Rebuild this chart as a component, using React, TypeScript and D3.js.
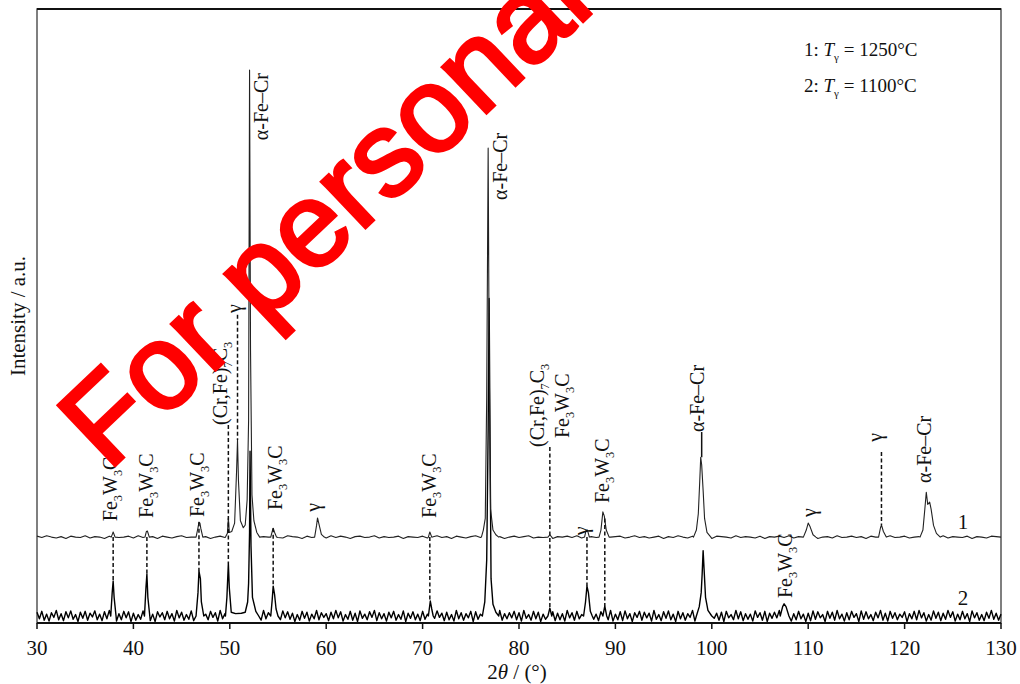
import React from "react";
import * as d3 from "d3";

const W = 1020;
const H = 684;
const frame = { left: 37, right: 1001, top: 9, bottom: 623 };

// 2θ axis ticks
const xTicks = [30, 40, 50, 60, 70, 80, 90, 100, 110, 120, 130];

// stacking offsets of the two patterns (a.u.)
const offset1 = 18.4;
const offset2 = 1.5;

// baseline noise, tenths of a.u., evenly spaced from 30 to 130°
const noise1 = [
  2, -1, 3, 0, -2, 1, -3, 2, 0, -1, 3, -2, 1, 0, -3, 2, 1, -1, 0, 2, -2, 3, -1, 0, 1, -3, 2, 0, -2, 1, 3, -1, 0, -2, 2, 1, -3, 0, 2, -1,
  1, -2, 3, 0, -1, 2, -3, 1, 0, 2, -1, -2, 3, 1, 0, -3, 2, -1, 1, 0, -2, 3, -1, 2, 0, -3, 1, 2, -1, 0, 3, -2, 1, -1, 0, 2, -3, 1, 0, -1,
  2, -2, 0, 3, -1, 1, -3, 2, 0, -2, 1, 3, -1, 0, 2, -2, 1, -3, 0, 2, -1, 1, 3, -2, 0, -1, 2, -3, 1, 0, 2, -1, 3, -2, 0, 1, -1, 2, -3, 0,
  1, 2, -2, 0, 3, -1, 1, -2, 0, 2, -3, 1, -1, 3, 0, -2, 2, 1, -1, 0, -3, 2, 1, 0, -2, 3, -1, 1, 0, -2, 2, -3, 1, 0, 2, -1, 3, -2, 1, 0,
  -1, 2, -3, 0, 1, -2, 3, -1, 0, 2, -1, 1, -3, 2, 0, -2, 1, 3, -1, 0, 2, -2, 0, 1, -3, 2, -1, 0, 3, -2, 1, 0, -1, 2, -3, 1, 0, -2, 2, 1,
  0,
];

const noise2 = [
  8, -6, 10, -9, 4, -11, 7, -3, 12, -8, 5, -10, 9, -4, 11, -7, 3, -12, 8, -5, 10, -9, 6, -2, 11, -8, 4, -10, 9, -6, 12, -3, 7, -11, 5, -8, 10, -4, 9, -12,
  6, -9, 3, -7, 11, -5, 8, -10, 4, -12, 9, -2, 7, -8, 10, -6, 5, -11, 12, -4, 8, -9, 3, -7, 11, -10, 6, -5, 9, -12, 4, -8, 10, -3, 7, -11, 12, -6, 5, -9,
  9, -4, 11, -8, 6, -12, 3, -7, 10, -5, 8, -11, 4, -9, 12, -6, 7, -3, 10, -10, 5, -8, 11, -4, 9, -7, 6, -12, 3, -9, 10, -5, 8, -11, 4, -6, 12, -8, 7, -3,
  5, -10, 8, -6, 12, -4, 9, -11, 3, -7, 10, -9, 6, -12, 11, -5, 4, -8, 9, -3, 12, -10, 7, -6, 5, -11, 8, -4, 10, -9, 3, -7, 11, -12, 6, -5, 9, -8, 4, -10,
  10, -7, 4, -12, 9, -5, 11, -3, 6, -10, 8, -8, 3, -11, 12, -6, 7, -9, 5, -4, 10, -12, 9, -7, 4, -5, 11, -10, 6, -3, 8, -11, 12, -9, 5, -6, 7, -4, 10, -8,
  7, -11, 12, -5, 3, -9, 10, -6, 8, -12, 4, -7, 11, -3, 9, -10, 6, -8, 5, -11, 12, -4, 7, -9, 10, -6, 3, -12, 8, -5, 11, -7, 4, -10, 9, -3, 6, -8, 12, -11,
  4, -8, 9, -10, 11, -6, 5, -12, 7, -3, 10, -9, 8, -4, 6, -11, 12, -7, 3, -10, 9, -5, 11, -8, 4, -12, 10, -6, 7, -9, 5, -3, 12, -11, 8, -4, 6, -10, 9, -7,
  11, -5, 6, -9, 8, -12, 10, -4, 3, -8, 12, -6, 9, -10, 5, -7, 4, -11, 11, -3, 7, -9, 10, -12, 6, -5, 8, -4, 12, -10, 3, -7, 9, -11, 5, -8, 10, -6, 4, -12,
  6, -10, 11, -7, 9, -4, 3, -12, 10, -5, 8, -9, 12, -6, 4, -11, 7, -8, 10, -3, 5, -12, 11, -7, 9, -6, 3, -10, 8, -4, 12, -9, 6, -11, 10, -5, 7, -8, 4, -3,
  9, -12, 5, -6, 10, -8, 12, -4, 7, -11, 3, -9, 11, -5, 8, -10, 6, -7, 12, -3, 9, -11, 4, -8, 10, -6, 5, -12, 11, -4, 7, -9, 3, -10, 8, -5, 12, -7, 6, -9,
  4,
];

// peak profiles, [2θ, intensity above baseline] — curve 1 (T = 1250°C)
const peaks1: [number, number][][] = [
  [[37.7, 0], [37.85, 0.8], [37.9, 1.1], [38.1, 0]],
  [[41.2, 0], [41.35, 1.2], [41.45, 1.3], [41.65, 0]],
  [[46.5, 0], [46.7, 2.0], [46.8, 3.2], [46.9, 3.0], [47.0, 1.8], [47.2, 0]],
  [[49.55, 0], [49.75, 0.8], [49.85, 4.1], [49.95, 1.0], [50.2, 1.2], [50.5, 3], [50.7, 14], [50.8, 20.8], [50.9, 12], [51.1, 3.5],
   [51.4, 2.0], [51.6, 2.6], [51.8, 8], [51.95, 25], [52.05, 100], [52.15, 40], [52.3, 9], [52.5, 3.5], [52.8, 1], [53.1, 0]],
  [[54.25, 0], [54.4, 1.2], [54.5, 1.9], [54.65, 1.0], [54.85, 0]],
  [[58.8, 0], [59.0, 2.5], [59.1, 4.1], [59.25, 2.8], [59.5, 0.6], [59.8, 0]],
  [[70.6, 0], [70.75, 1.1], [70.95, 0]],
  [[76.1, 0], [76.3, 1.5], [76.5, 4], [76.65, 30], [76.8, 83.3], [76.9, 40], [77.05, 6], [77.3, 1.5], [77.6, 0.5], [77.9, 0]],
  [[83.0, 0], [83.2, 0.5], [83.4, 0]],
  [[86.8, 0], [86.95, 1.4], [87.1, 1.5], [87.3, 0]],
  [[88.3, 0], [88.5, 1.5], [88.7, 5.4], [88.85, 4.5], [89.05, 1.5], [89.35, 0]],
  [[98.1, 0], [98.4, 1.5], [98.6, 5], [98.75, 12], [98.85, 17.1], [98.95, 15.5], [99.1, 10], [99.25, 4], [99.5, 1], [99.9, 0]],
  [[109.5, 0], [109.8, 1.5], [110.0, 3.0], [110.2, 2.2], [110.5, 0.5], [110.8, 0]],
  [[117.3, 0], [117.5, 2.0], [117.6, 2.6], [117.8, 1.2], [118.1, 0]],
  [[121.6, 0], [121.9, 1.5], [122.1, 6], [122.25, 9.6], [122.4, 7], [122.6, 7.5], [122.75, 6], [123.0, 2.5], [123.3, 0.8], [123.7, 0]],
];

// curve 2 (T = 1100°C)
const peaks2: [number, number][][] = [
  [[37.65, 0], [37.8, 5], [37.9, 7.5], [38.0, 4], [38.2, 0]],
  [[41.15, 0], [41.3, 6], [41.4, 9.0], [41.5, 4], [41.7, 0]],
  [[46.5, 0], [46.7, 5], [46.8, 9.6], [46.95, 8], [47.05, 3], [47.3, 0]],
  [[49.55, 0], [49.7, 4], [49.85, 11.3], [49.95, 6], [50.15, 0.8], [50.6, 0.5], [51.2, 0.6], [51.6, 0.8], [51.85, 3], [51.95, 7],
   [52.05, 18], [52.1, 35.3], [52.2, 15], [52.35, 4], [52.7, 1], [53.0, 0]],
  [[54.25, 0], [54.4, 3.5], [54.5, 6.4], [54.65, 4.5], [54.8, 1.5], [55.0, 0]],
  [[70.6, 0], [70.8, 3.2], [70.95, 1.5], [71.1, 0]],
  [[76.2, 0], [76.45, 3], [76.65, 12], [76.8, 40], [76.9, 68], [77.0, 36], [77.1, 8], [77.3, 2.5], [77.6, 0.8], [77.9, 0]],
  [[83.0, 0], [83.2, 1.7], [83.4, 0]],
  [[86.7, 0], [86.9, 3], [87.05, 6.4], [87.2, 5], [87.4, 1], [87.6, 0]],
  [[88.7, 0], [88.9, 2.1], [89.1, 0]],
  [[98.4, 0], [98.7, 2], [98.9, 5], [99.0, 9], [99.1, 14], [99.2, 10], [99.35, 4], [99.6, 1.2], [100.0, 0]],
  [[107.1, 0], [107.35, 2], [107.5, 2.6], [107.7, 2.0], [108.0, 0]],
];

// phase labels: t = 2θ of marker, y = label foot (a.u.), dx = baseline shift (px),
// line = marker line [from, to] in a.u.
type Ann = { t: number; text: string; y: number; dx: number; line?: [number, number]; dash?: boolean };
const annotations: Ann[] = [
  { t: 37.9, text: "Fe_3W_3C", y: 21.8, dx: 3.5, line: [18.4, 9.2], dash: true },
  { t: 41.4, text: "Fe_3W_3C", y: 22.5, dx: 6.5, line: [18.4, 10.5], dash: true },
  { t: 46.8, text: "Fe_3W_3C", y: 22.7, dx: 5.5, line: [21.6, 11.1], dash: true },
  { t: 49.85, text: "(Cr,Fe)_7C_3", y: 42.4, dx: -1.5, line: [42.4, 12.8], dash: true },
  { t: 50.8, text: "γ", y: 66.4, dx: 3, line: [66.0, 39.2], dash: true },
  { t: 52.05, text: "α-Fe–Cr", y: 103.4, dx: 18.5 },
  { t: 54.5, text: "Fe_3W_3C", y: 24.2, dx: 8.5, line: [20.3, 7.9], dash: true },
  { t: 59.1, text: "γ", y: 23.8, dx: 2 },
  { t: 70.75, text: "Fe_3W_3C", y: 22.5, dx: 6.5, line: [18.4, 4.7], dash: true },
  { t: 76.8, text: "α-Fe–Cr", y: 90.6, dx: 18.5 },
  { t: 83.2, text: "(Cr,Fe)_7C_3", y: 37.7, dx: -5.5, line: [37.7, 3.2], dash: true },
  { t: 83.2, text: "Fe_3W_3C", y: 39.6, dx: 19.5 },
  { t: 87.05, text: "γ", y: 18.8, dx: 1, line: [18.4, 7.9], dash: true },
  { t: 88.9, text: "Fe_3W_3C", y: 25.7, dx: 4.5, line: [22.4, 3.6], dash: true },
  { t: 98.95, text: "α-Fe–Cr", y: 40.9, dx: 2.5, line: [40.9, 35.5], dash: false },
  { t: 107.5, text: "Fe_3W_3C", y: 5.35, dx: 7.5 },
  { t: 110.0, text: "γ", y: 22.7, dx: 8 },
  { t: 117.6, text: "γ", y: 38.8, dx: 1, line: [36.6, 21.0], dash: true },
  { t: 122.3, text: "α-Fe–Cr", y: 30.0, dx: 4.5 },
];

const legend = [
  { id: "1", temp: "1250°C" },
  { id: "2", temp: "1100°C" },
];

const serif = "'Liberation Serif', 'Times New Roman', Times, serif";

function buildTrace(noise: number[], peaks: [number, number][][], offset: number) {
  const step = 100 / (noise.length - 1);
  const spans = peaks.map((p) => [p[0][0], p[p.length - 1][0]]);
  const pts: [number, number][] = [];
  noise.forEach((v, i) => {
    const t = 30 + i * step;
    if (spans.some(([a, b]) => t >= a && t <= b)) return;
    pts.push([t, offset + v / 10]);
  });
  peaks.forEach((p) => p.forEach(([t, v]) => pts.push([t, offset + v])));
  return pts.sort((a, b) => a[0] - b[0]);
}

// "Fe_3W_3C" -> normal / subscript pieces
function parseLabel(s: string) {
  const out: { s: string; sub: boolean }[] = [];
  for (let i = 0; i < s.length; i++) {
    if (s[i] === "_") {
      out.push({ s: s[i + 1], sub: true });
      i++;
    } else if (out.length && !out[out.length - 1].sub) {
      out[out.length - 1].s += s[i];
    } else {
      out.push({ s: s[i], sub: false });
    }
  }
  return out;
}

function RotLabel({ x, y, text, size }: { x: number; y: number; text: string; size: number }) {
  const parts = parseLabel(text);
  let shifted = false;
  return (
    <text transform={`translate(${x},${y}) rotate(-90)`} fontSize={size} fontFamily={serif} fill="#111">
      {parts.map((p, i) => {
        let dy = 0;
        if (p.sub && !shifted) { dy = 5; shifted = true; }
        else if (!p.sub && shifted) { dy = -5; shifted = false; }
        return (
          <tspan key={i} dy={dy} fontSize={p.sub ? size * 0.62 : size}>{p.s}</tspan>
        );
      })}
    </text>
  );
}

export default function App() {
  const x = d3.scaleLinear().domain([30, 130]).range([frame.left, frame.right]);
  const y = d3.scaleLinear().domain([0, 131.5]).range([frame.bottom, frame.top]);

  const line = d3
    .line<[number, number]>()
    .x((d) => x(d[0]))
    .y((d) => y(d[1]));

  const trace1 = buildTrace(noise1, peaks1, offset1);
  const trace2 = buildTrace(noise2, peaks2, offset2);

  return (
    <svg width={W} height={H} style={{ position: "absolute", left: 0, top: 0, background: "#fff" }}>
      <rect x={0} y={0} width={W} height={H} fill="#fff" />

      {/* frame */}
      <rect x={frame.left} y={frame.top} width={frame.right - frame.left} height={frame.bottom - frame.top}
        fill="none" stroke="#555" strokeWidth={1.5} />
      <line x1={frame.left} x2={frame.right} y1={frame.top} y2={frame.top} stroke="#111" strokeWidth={1.8} />

      {/* traces */}
      <path d={line(trace2) ?? ""} fill="none" stroke="#000" strokeWidth={1.4} strokeLinejoin="round" />
      <path d={line(trace1) ?? ""} fill="none" stroke="#222" strokeWidth={1.1} strokeLinejoin="round" />

      {/* marker lines */}
      {annotations.filter((a) => a.line).map((a, i) => (
        <line key={i} x1={x(a.t)} x2={x(a.t)} y1={y(a.line![0])} y2={y(a.line![1])}
          stroke="#111" strokeWidth={1.5} strokeDasharray={a.dash ? "4,2.5" : undefined} />
      ))}

      {/* labels */}
      {annotations.map((a, i) => (
        <RotLabel key={i} x={x(a.t) + a.dx} y={y(a.y)} text={a.text} size={20} />
      ))}

      {/* bottom axis */}
      <line x1={frame.left} x2={frame.right} y1={frame.bottom} y2={frame.bottom} stroke="#111" strokeWidth={2} />
      {xTicks.map((t) => (
        <g key={t}>
          <line x1={x(t)} x2={x(t)} y1={frame.bottom} y2={frame.bottom + 6} stroke="#111" strokeWidth={1.5} />
          <text x={x(t)} y={655} textAnchor="middle" fontSize={21} fontFamily={serif} fill="#111">{t}</text>
        </g>
      ))}
      <text x={517} y={679} textAnchor="middle" fontSize={21} fontFamily={serif} fill="#111">
        2<tspan fontStyle="italic">θ</tspan> / (°)
      </text>
      <text transform="translate(25,316) rotate(-90)" textAnchor="middle" fontSize={21} fontFamily={serif} fill="#111">
        Intensity / a.u.
      </text>

      {/* curve numbers */}
      <text x={963} y={529} textAnchor="middle" fontSize={21} fontFamily={serif} fill="#111">1</text>
      <text x={963} y={605} textAnchor="middle" fontSize={21} fontFamily={serif} fill="#111">2</text>

      {/* legend */}
      {legend.map((l, i) => (
        <text key={l.id} x={804} y={56 + i * 36} fontSize={19} fontFamily={serif} fill="#111">
          {l.id}: <tspan fontStyle="italic">T</tspan>
          <tspan dy={5} fontSize={11}>γ</tspan>
          <tspan dy={-5}> = {l.temp}</tspan>
        </text>
      ))}

      {/* watermark */}
      <text transform="translate(108,472) rotate(-43.5)" fontSize={120}
        fontFamily="'Liberation Sans', Arial, sans-serif" fill="#ff0000" stroke="#ff0000" strokeWidth={3.5}>
        For personal
      </text>
    </svg>
  );
}
